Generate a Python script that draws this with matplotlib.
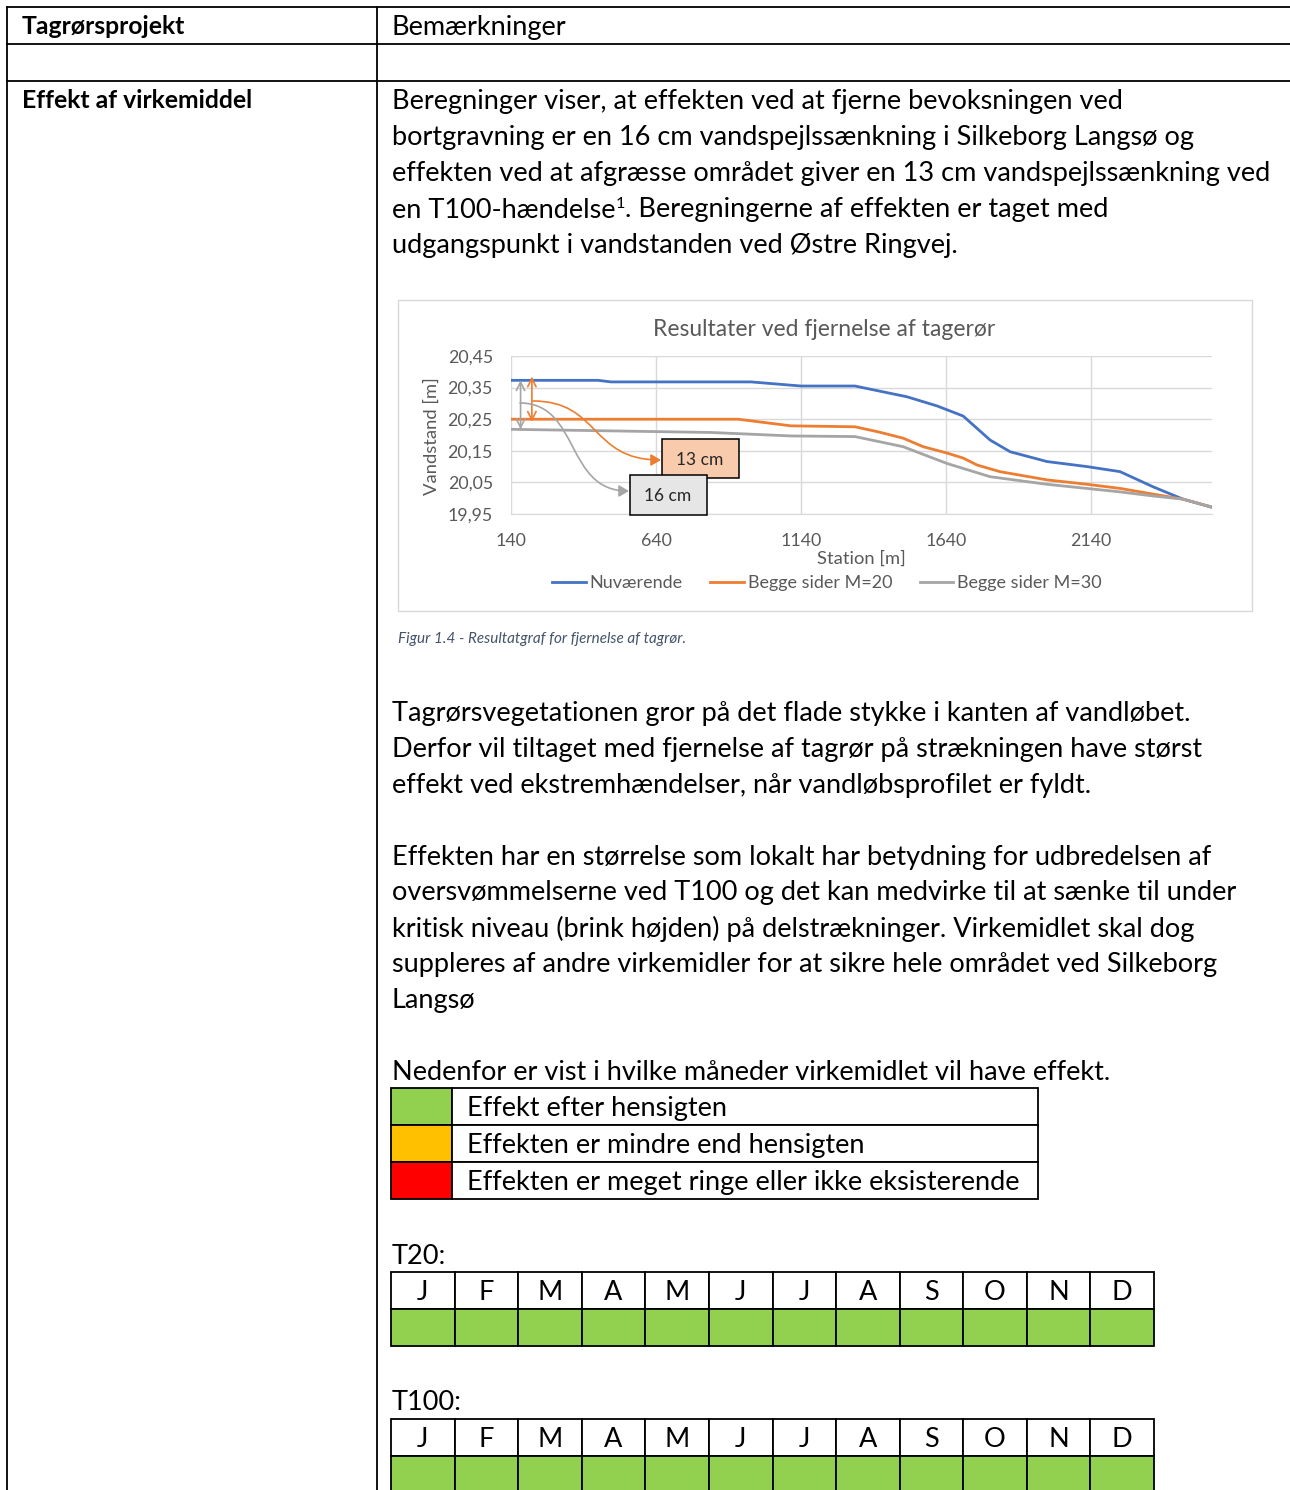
import numpy as np
import matplotlib.pyplot as plt
from matplotlib.patches import Rectangle, FancyArrowPatch
from matplotlib.path import Path

plt.rcParams['font.family'] = ['Lato', 'DejaVu Sans']

# chart data
st_nu = [140, 440, 485, 968, 1140, 1326, 1505, 1609, 1699, 1792, 1861, 1988, 2126, 2240, 2354, 2457, 2557]
wl_nu = [20.373, 20.373, 20.368, 20.368, 20.355, 20.355, 20.321, 20.292, 20.26, 20.184, 20.147, 20.116,
         20.10, 20.084, 20.036, 19.997, 19.971]
st_m20 = [140, 923, 1105, 1326, 1406, 1492, 1561, 1643, 1699, 1747, 1826, 1988, 2126, 2240, 2354, 2457, 2557]
wl_m20 = [20.25, 20.25, 20.229, 20.226, 20.21, 20.19, 20.163, 20.143, 20.127, 20.105, 20.084, 20.058,
          20.044, 20.031, 20.013, 19.997, 19.972]
st_m30 = [140, 830, 1105, 1326, 1492, 1643, 1792, 1988, 2240, 2354, 2457, 2557]
wl_m30 = [20.218, 20.208, 20.197, 20.195, 20.163, 20.11, 20.068, 20.044, 20.02, 20.007, 19.997, 19.972]
series_names = ['Nuværende', 'Begge sider M=20', 'Begge sider M=30']
series_colors = ['#4472C4', '#ED7D31', '#A5A5A5']
x_ticks = [140, 640, 1140, 1640, 2140]
y_ticks = [19.95, 20.05, 20.15, 20.25, 20.35, 20.45]

# effect table
months = ['J', 'F', 'M', 'A', 'M', 'J', 'J', 'A', 'S', 'O', 'N', 'D']
t20_effect = [0] * 12
t100_effect = [0] * 12
effect_labels = ['Effekt efter hensigten',
                 'Effekten er mindre end hensigten',
                 'Effekten er meget ringe eller ikke eksisterende']
effect_colors = ['#92D050', '#FFC000', '#FF0000']

para1 = ['Beregninger viser, at effekten ved at fjerne bevoksningen ved',
         'bortgravning er en 16 cm vandspejlssænkning i Silkeborg Langsø og',
         'effekten ved at afgræsse området giver en 13 cm vandspejlssænkning ved']
para1_sup = ('en T100-hændelse', '1', '. Beregningerne af effekten er taget med')
para1_last = 'udgangspunkt i vandstanden ved Østre Ringvej.'
para2 = ['Tagrørsvegetationen gror på det flade stykke i kanten af vandløbet.',
         'Derfor vil tiltaget med fjernelse af tagrør på strækningen have størst',
         'effekt ved ekstremhændelser, når vandløbsprofilet er fyldt.']
para3 = ['Effekten har en størrelse som lokalt har betydning for udbredelsen af',
         'oversvømmelserne ved T100 og det kan medvirke til at sænke til under',
         'kritisk niveau (brink højden) på delstrækninger. Virkemidlet skal dog',
         'suppleres af andre virkemidler for at sikre hele området ved Silkeborg',
         'Langsø']
intro = 'Nedenfor er vist i hvilke måneder virkemidlet vil have effekt.'

W, H = 1290, 1490
fig = plt.figure(figsize=(W / 100, H / 100), dpi=100)
ax = fig.add_axes([0, 0, 1, 1])
ax.set_xlim(0, W)
ax.set_ylim(H, 0)
ax.axis('off')

fs = 19.5
fsb = 17.8
lw = 1.3
dy = 2  # small baseline nudge

# outer table
for y in [7, 44, 81]:
    ax.plot([7, W], [y, y], color='black', lw=lw)
for x in [7, 377]:
    ax.plot([x, x], [7, H], color='black', lw=lw)
ax.text(22, 25 + dy, 'Tagrørsprojekt', fontsize=fsb, fontweight='bold', va='center')
ax.text(392, 26 + dy, 'Bemærkninger', fontsize=fs, va='center')
ax.text(22, 99 + dy, 'Effekt af virkemiddel', fontsize=fsb, fontweight='bold', va='center')

# paragraph text
x0 = 392
for i, line in enumerate(para1):
    ax.text(x0, 100 + dy + 36 * i, line, fontsize=fs, va='center')
t1 = ax.text(x0, 208 + dy, para1_sup[0], fontsize=fs, va='center')
t2 = ax.annotate(para1_sup[1], xy=(1, 0.72), xycoords=t1, fontsize=fs * 0.6, va='center', ha='left')
ax.annotate(para1_sup[2], xy=(1.0, 0), xycoords=(t2, t1), fontsize=fs, va='bottom', ha='left')
ax.text(x0, 244 + dy, para1_last, fontsize=fs, va='center')
for i, line in enumerate(para2):
    ax.text(x0, 711 + dy + 36 * i, line, fontsize=fs, va='center')
for i, line in enumerate(para3):
    ax.text(x0, 855 + dy + 35.8 * i, line, fontsize=fs, va='center')
ax.text(x0, 1070 + dy, intro, fontsize=fs, va='center')

# legend table
for i, (lab, col) in enumerate(zip(effect_labels, effect_colors)):
    y = 1088 + 37 * i
    ax.add_patch(Rectangle((391, y), 61, 37, facecolor=col, edgecolor='black', lw=lw))
    ax.add_patch(Rectangle((452, y), 586, 37, facecolor='white', edgecolor='black', lw=lw))
    ax.text(467, y + 18.5 + dy, lab, fontsize=fs, va='center')

# month tables
def month_table(top, label, effect):
    ax.text(x0, top - 18 + dy, label, fontsize=fs, va='center')
    cw = (1154 - 391) / 12
    for j, m in enumerate(months):
        xl = 391 + cw * j
        ax.add_patch(Rectangle((xl, top), cw, 37, facecolor='white', edgecolor='black', lw=lw))
        ax.text(xl + cw / 2, top + 18.5 + dy, m, fontsize=fs, va='center', ha='center')
        ax.add_patch(Rectangle((xl, top + 37), cw, 37, facecolor=effect_colors[effect[j]],
                               edgecolor='black', lw=lw))

month_table(1272, 'T20:', t20_effect)
month_table(1419, 'T100:', t100_effect)

# chart frame and texts
gray_txt = '#595959'
ax.add_patch(Rectangle((398, 300), 854, 311, facecolor='white', edgecolor='#D9D9D9', lw=1))
ax.text(824, 330, 'Resultater ved fjernelse af tagerør', fontsize=16.5, color=gray_txt,
        ha='center', va='center')
ax.text(432, 436, 'Vandstand [m]', fontsize=13.2, color=gray_txt, rotation=90,
        ha='center', va='center')
ax.text(861, 559, 'Station [m]', fontsize=13.2, color=gray_txt, ha='center', va='center')
ax.text(398, 639, 'Figur 1.4 - Resultatgraf for fjernelse af tagrør.', fontsize=11,
        style='italic', color='#44546A', va='center')

cax = fig.add_axes([511 / W, 1 - 514 / H, 701 / W, 158 / H])
cax.set_facecolor('none')
lines = []
for st, wl, name, col in zip([st_nu, st_m20, st_m30], [wl_nu, wl_m20, wl_m30],
                             series_names, series_colors):
    ln, = cax.plot(st, wl, color=col, lw=2, label=name)
    lines.append(ln)
cax.set_xlim(140, 2557)
cax.set_ylim(19.95, 20.45)
cax.set_xticks(x_ticks)
cax.set_yticks(y_ticks)
cax.set_yticklabels([f'{v:.2f}'.replace('.', ',') for v in y_ticks])
cax.grid(True, color='#D9D9D9', lw=1)
cax.set_axisbelow(True)
for s in ['top', 'right', 'left']:
    cax.spines[s].set_visible(False)
cax.spines['bottom'].set_color('#D9D9D9')
cax.tick_params(length=0, labelsize=12.8, labelcolor=gray_txt)
cax.tick_params(axis='x', pad=14)
cax.tick_params(axis='y', pad=13)

fig.legend(handles=lines, loc='center', bbox_to_anchor=(827 / W, 1 - 583 / H), ncol=3,
           frameon=False, fontsize=13, labelcolor=gray_txt, handlelength=1.85,
           handletextpad=0.2, columnspacing=1.55)

# annotations on top
ov = fig.add_axes([0, 0, 1, 1])
ov.set_xlim(0, W)
ov.set_ylim(H, 0)
ov.axis('off')

cax.annotate('', xy=(173, wl_m30[0]), xytext=(173, wl_nu[0]),
             arrowprops=dict(arrowstyle='<->,head_length=0.6,head_width=0.3',
                             color='#A5A5A5', lw=1.2, shrinkA=0, shrinkB=0))
cax.annotate('', xy=(212, wl_m20[0] - 0.008), xytext=(212, wl_nu[0] + 0.012),
             arrowprops=dict(arrowstyle='<->,head_length=0.6,head_width=0.3',
                             color='#ED7D31', lw=1.2, shrinkA=0, shrinkB=0))

def connector(p0, p1, p2, p3, col):
    path = Path([p0, p1, p2, p3], [Path.MOVETO, Path.CURVE4, Path.CURVE4, Path.CURVE4])
    ov.add_patch(FancyArrowPatch(path=path, arrowstyle='-|>,head_length=6,head_width=3.5',
                                 color=col, lw=1.2, transform=ov.transData))

connector((533, 401), (600, 401), (590, 460), (661, 460), '#ED7D31')
connector((520, 403), (580, 403), (565, 491), (629, 491), '#A5A5A5')

ov.add_patch(Rectangle((662, 439), 77, 39, facecolor='#F8CBAD', edgecolor='black', lw=1.1))
ov.text(700, 460, '13 cm', fontsize=12.5, ha='center', va='center', color='#262626')
ov.add_patch(Rectangle((630, 475), 77, 40, facecolor='#E7E6E6', edgecolor='black', lw=1.1))
ov.text(668, 496, '16 cm', fontsize=12.5, ha='center', va='center', color='#262626')

fig.savefig('out.png', dpi=100)
